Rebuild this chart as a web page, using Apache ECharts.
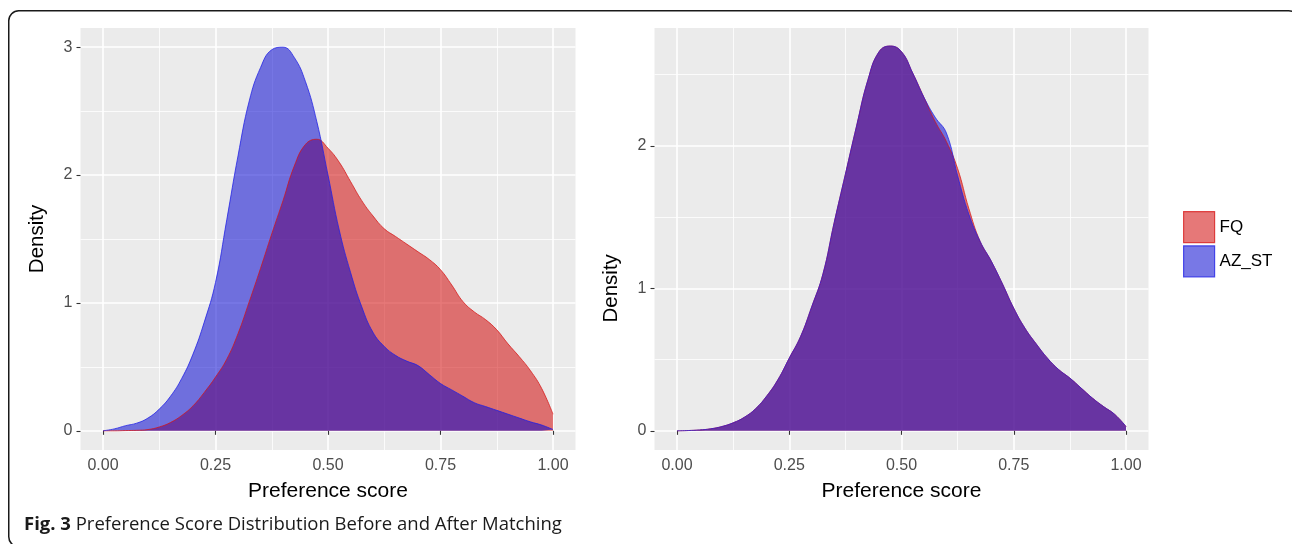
<!DOCTYPE html>
<html>
<head>
<meta charset="utf-8">
<script src="https://cdn.jsdelivr.net/npm/echarts/dist/echarts.min.js"></script>
<style>
  html, body { margin: 0; padding: 0; background: #ffffff; }
  #chart { width: 1292px; height: 544px; }
</style>
</head>
<body>
<div id="chart"></div>
<script>
// ---- Data ----
const scoreGrid = [0.000, 0.025, 0.050, 0.075, 0.100, 0.125, 0.150, 0.175, 0.200, 0.225,
                   0.250, 0.275, 0.300, 0.325, 0.350, 0.375, 0.400, 0.425, 0.450, 0.475,
                   0.500, 0.525, 0.550, 0.575, 0.600, 0.625, 0.650, 0.675, 0.700, 0.725,
                   0.750, 0.775, 0.800, 0.825, 0.850, 0.875, 0.900, 0.925, 0.950, 0.975, 1.000];

// Before matching (left panel)
const beforeFQ = [0.000, 0.000, 0.002, 0.004, 0.010, 0.030, 0.065, 0.120, 0.195, 0.300,
                  0.420, 0.560, 0.760, 1.010, 1.270, 1.540, 1.800, 2.070, 2.240, 2.280,
                  2.210, 2.100, 1.950, 1.800, 1.680, 1.580, 1.520, 1.460, 1.400, 1.340,
                  1.260, 1.140, 1.010, 0.930, 0.870, 0.790, 0.680, 0.580, 0.470, 0.330, 0.130];
const beforeAZST = [0.000, 0.015, 0.040, 0.060, 0.100, 0.170, 0.270, 0.410, 0.600, 0.850,
                    1.160, 1.650, 2.150, 2.580, 2.840, 2.980, 3.000, 2.920, 2.730, 2.420,
                    2.000, 1.570, 1.240, 0.970, 0.770, 0.660, 0.590, 0.545, 0.510, 0.440,
                    0.370, 0.320, 0.270, 0.220, 0.190, 0.160, 0.130, 0.100, 0.070, 0.045, 0.010];

// After matching (right panel)
const afterFQ = [0.000, 0.002, 0.006, 0.014, 0.030, 0.056, 0.095, 0.155, 0.245, 0.360,
                 0.510, 0.660, 0.870, 1.100, 1.460, 1.800, 2.140, 2.460, 2.660, 2.700,
                 2.660, 2.510, 2.340, 2.170, 2.030, 1.840, 1.560, 1.330, 1.190, 1.030,
                 0.860, 0.720, 0.610, 0.510, 0.430, 0.370, 0.300, 0.230, 0.170, 0.115, 0.030];
const afterAZST = [0.000, 0.002, 0.006, 0.014, 0.030, 0.056, 0.095, 0.155, 0.245, 0.360,
                   0.510, 0.660, 0.870, 1.100, 1.460, 1.800, 2.140, 2.460, 2.660, 2.700,
                   2.660, 2.510, 2.340, 2.200, 2.090, 1.790, 1.520, 1.330, 1.190, 1.030,
                   0.860, 0.720, 0.610, 0.510, 0.430, 0.370, 0.300, 0.230, 0.170, 0.115, 0.030];

const groupNames = ['FQ', 'AZ_ST'];
const xAxisTitle = 'Preference score';
const yAxisTitle = 'Density';
const captionBold = 'Fig. 3';
const captionText = 'Preference Score Distribution Before and After Matching';

// ---- Styling ----
const FONT = '"Liberation Sans", Arial, Helvetica, sans-serif';
const RED_FILL = 'rgba(207,0,0,0.53)';
const BLUE_FILL = 'rgba(0,0,207,0.53)';
const RED_LINE = 'rgba(215,20,20,0.75)';
const BLUE_LINE = 'rgba(30,30,230,0.75)';
const PANEL_BG = '#EBEBEB';
const TICK_COLOR = '#333333';
const LABEL_COLOR = '#4D4D4D';

function pairs(ys) { return scoreGrid.map((x, i) => [x, ys[i]]); }

const hiddenAxis = (min, max) => ({ show: false, type: 'value', min: min, max: max });

const tickStyle = { show: true, length: 4, inside: false, lineStyle: { color: TICK_COLOR, width: 1.1 } };
const majorSplit = { show: true, lineStyle: { color: '#FFFFFF', width: 1.6 } };
const minorSplit = { show: true, lineStyle: { color: '#FFFFFF', width: 0.8 } };

function visibleX(gridIndex) {
  return {
    type: 'value', gridIndex: gridIndex, min: 0, max: 1, interval: 0.25,
    position: 'bottom',
    axisLine: { show: false },
    axisTick: tickStyle,
    axisLabel: { show: true, margin: 8, color: LABEL_COLOR, fontSize: 16, fontFamily: FONT,
                 formatter: v => v.toFixed(2) },
    splitLine: majorSplit,
    minorTick: { show: false, splitNumber: 2 },
    minorSplitLine: minorSplit,
    name: xAxisTitle, nameLocation: 'middle', nameGap: 31,
    nameTextStyle: { color: '#000000', fontSize: 21, fontFamily: FONT }
  };
}

function areaSeries(name, ys, xi, yi, fill, line) {
  return {
    type: 'line', name: name, xAxisIndex: xi, yAxisIndex: yi,
    data: pairs(ys), smooth: 0.45, showSymbol: false, symbol: 'none', clip: false,
    lineStyle: { color: line, width: 1 },
    itemStyle: { color: fill },
    areaStyle: { color: fill, origin: 'auto', opacity: 1 },
    emphasis: { disabled: true },
    z: 2
  };
}

// Panel geometry (pixels)
const L = { left: 80.5, width: 495, top: 28, height: 422, dataLeft: 103, dataWidth: 450 };
const R = { left: 654.5, width: 494, top: 28, height: 422, dataLeft: 677, dataWidth: 449 };
const leftYMax = 3.0, rightYMax = 2.692;
const leftUnit = L.height / (1.1 * leftYMax);
const rightUnit = R.height / (1.1 * rightYMax);
const zeroY = L.top + L.height - 0.05 * leftYMax * leftUnit;

const option = {
  animation: false,
  backgroundColor: '#FFFFFF',
  textStyle: { fontFamily: FONT },
  grid: [
    // left panel
    { left: L.left, top: L.top, width: L.width, height: L.height, show: true, backgroundColor: PANEL_BG, borderWidth: 0 },
    { left: L.dataLeft, top: L.top, width: L.dataWidth, height: L.height },
    { left: L.left, top: zeroY - 3 * leftUnit, width: L.width, height: 3 * leftUnit },
    // right panel
    { left: R.left, top: R.top, width: R.width, height: R.height, show: true, backgroundColor: PANEL_BG, borderWidth: 0 },
    { left: R.dataLeft, top: R.top, width: R.dataWidth, height: R.height },
    { left: R.left, top: zeroY - 3 * rightUnit, width: R.width, height: 3 * rightUnit },
    { left: R.left, top: zeroY - 2 * rightUnit, width: R.width, height: 2 * rightUnit }
  ],
  xAxis: [
    Object.assign(hiddenAxis(0, 1), { gridIndex: 0 }),
    visibleX(1),
    Object.assign(hiddenAxis(0, 1), { gridIndex: 2 }),
    Object.assign(hiddenAxis(0, 1), { gridIndex: 3 }),
    visibleX(4),
    Object.assign(hiddenAxis(0, 1), { gridIndex: 5 }),
    Object.assign(hiddenAxis(0, 1), { gridIndex: 6 })
  ],
  yAxis: [
    Object.assign(hiddenAxis(0, 1), { gridIndex: 0 }),
    Object.assign(hiddenAxis(-0.05 * leftYMax, 1.05 * leftYMax), { gridIndex: 1 }),
    {
      type: 'value', gridIndex: 2, min: 0, max: 3, interval: 1, position: 'left',
      axisLine: { show: false }, axisTick: tickStyle,
      axisLabel: { show: true, margin: 8, color: LABEL_COLOR, fontSize: 16, fontFamily: FONT },
      splitLine: majorSplit, minorTick: { show: false, splitNumber: 2 }, minorSplitLine: minorSplit,
      name: yAxisTitle, nameLocation: 'middle', nameGap: 33, nameRotate: 90,
      nameTextStyle: { color: '#000000', fontSize: 20.5, fontFamily: FONT }
    },
    Object.assign(hiddenAxis(0, 1), { gridIndex: 3 }),
    Object.assign(hiddenAxis(-0.05 * rightYMax, 1.05 * rightYMax), { gridIndex: 4 }),
    {
      type: 'value', gridIndex: 5, min: 0, max: 3, interval: 1, position: 'left',
      axisLine: { show: false }, axisTick: { show: false }, axisLabel: { show: false },
      splitLine: majorSplit, minorTick: { show: false, splitNumber: 2 }, minorSplitLine: minorSplit
    },
    {
      type: 'value', gridIndex: 6, min: 0, max: 2, interval: 1, position: 'left',
      axisLine: { show: false }, axisTick: tickStyle,
      axisLabel: { show: true, margin: 8, color: LABEL_COLOR, fontSize: 16, fontFamily: FONT },
      splitLine: { show: false },
      name: yAxisTitle, nameLocation: 'middle', nameGap: 33, nameRotate: 90,
      nameTextStyle: { color: '#000000', fontSize: 20.5, fontFamily: FONT }
    }
  ],
  legend: {
    orient: 'vertical', left: 1183, top: 211, padding: 0,
    itemWidth: 31, itemHeight: 31, itemGap: 2,
    selectedMode: false,
    textStyle: { color: '#000000', fontSize: 17, fontFamily: FONT },
    data: [
      { name: groupNames[0], icon: 'rect', itemStyle: { color: RED_FILL, borderColor: RED_LINE, borderWidth: 1.2 } },
      { name: groupNames[1], icon: 'rect', itemStyle: { color: BLUE_FILL, borderColor: BLUE_LINE, borderWidth: 1.2 } }
    ]
  },
  series: [
    areaSeries(groupNames[0], beforeFQ, 1, 1, RED_FILL, RED_LINE),
    areaSeries(groupNames[1], beforeAZST, 1, 1, BLUE_FILL, BLUE_LINE),
    areaSeries(groupNames[0], afterFQ, 4, 4, RED_FILL, RED_LINE),
    areaSeries(groupNames[1], afterAZST, 4, 4, BLUE_FILL, BLUE_LINE)
  ],
  graphic: [
    {
      type: 'rect', silent: true, z: 100,
      shape: { x: 8.75, y: 10.75, width: 1290, height: 536, r: 10 },
      style: { fill: 'none', stroke: '#1a1a1a', lineWidth: 1.5 }
    },
    {
      type: 'text', silent: true, z: 100, x: 24, y: 525,
      style: {
        text: '{b|' + captionBold + '} ' + captionText,
        fontFamily: '"Open Sans", "Noto Sans", sans-serif', fontSize: 18.5, fill: '#1a1a1a',
        verticalAlign: 'middle',
        rich: { b: { fontWeight: 'bold', fontFamily: '"Open Sans", "Noto Sans", sans-serif', fontSize: 18.5, fill: '#1a1a1a' } }
      }
    }
  ]
};

const chart = echarts.init(document.getElementById('chart'), null, { renderer: 'canvas' });
chart.setOption(option);
</script>
</body>
</html>
